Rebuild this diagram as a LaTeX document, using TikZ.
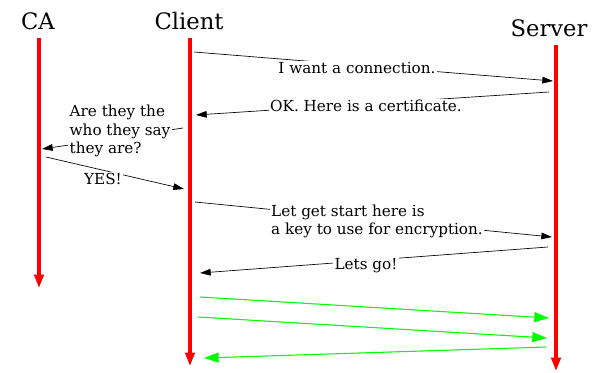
\documentclass[tikz,border=0pt]{standalone}
\usepackage{fontspec}
\setmainfont{DejaVu Serif}
\usetikzlibrary{arrows.meta}
\begin{document}
\begin{tikzpicture}[x=0.75pt,y=-0.75pt,
  lifeline/.style={red, line width=2.4pt, -{Triangle[length=10pt,width=7pt]}},
  title/.style={font=\fontsize{17}{19}\selectfont, inner sep=0pt},
  msg/.style={black, line width=0.5pt, -{Triangle[length=8pt,width=5pt]}},
  gmsg/.style={green, line width=0.8pt, -{Triangle[length=11pt,width=7.5pt]}},
  lbl/.style={fill=white, inner sep=1pt, font=\fontsize{11.4}{13.6}\selectfont, align=left}]
\useasboundingbox (0,0) rectangle (596,372);
% titles
\node[title] (ca) at (38,21) {CA};
\node[title] (client) at (189,21) {Client};
\node[title] (server) at (549,28) {Server};
% lifelines
\coordinate (caT) at (39,38); \coordinate (caB) at (39,288);
\coordinate (clT) at (190,38); \coordinate (clB) at (190,366);
\coordinate (svT) at (556,45); \coordinate (svB) at (556,371);
\draw[lifeline] (caT) -- (caB);
\draw[lifeline] (clT) -- (clB);
\draw[lifeline] (svT) -- (svB);
% message end points
\coordinate (a1) at (194,52);  \coordinate (b1) at (553,81);
\coordinate (a2) at (549,92);  \coordinate (b2) at (196,115);
\coordinate (a3) at (183,128); \coordinate (b3) at (42,149);
\coordinate (a4) at (46,157);  \coordinate (b4) at (184,189);
\coordinate (a5) at (195,202); \coordinate (b5) at (552,237);
\coordinate (a6) at (548,247); \coordinate (b6) at (200,273);
\coordinate (a7) at (200,297); \coordinate (b7) at (549,318);
\coordinate (a8) at (198,317); \coordinate (b8) at (547,338);
\coordinate (a9) at (546,347); \coordinate (b9) at (204,358);
\draw[msg] (a1) -- (b1);
\draw[msg] (a2) -- (b2);
\draw[msg] (a3) -- (b3);
\draw[msg] (a4) -- (b4);
\draw[msg] (a5) -- (b5);
\draw[msg] (a6) -- (b6);
\draw[gmsg] (a7) -- (b7);
\draw[gmsg] (a8) -- (b8);
\draw[gmsg] (a9) -- (b9);
% labels
\node[lbl] (l1) at (357,68) {I want a connection.};
\node[lbl] (l2) at (366,106) {OK. Here is a certificate.};
\node[lbl] (l3) at (120,131) {Are they the\\who they say\\they are?};
\node[lbl] (l4) at (103,179) {YES!};
\node[lbl] (l5) at (377,221) {Let get start here is\\a key to use for encryption.};
\node[lbl] (l6) at (366,266) {Lets go!};
\end{tikzpicture}
\end{document}
